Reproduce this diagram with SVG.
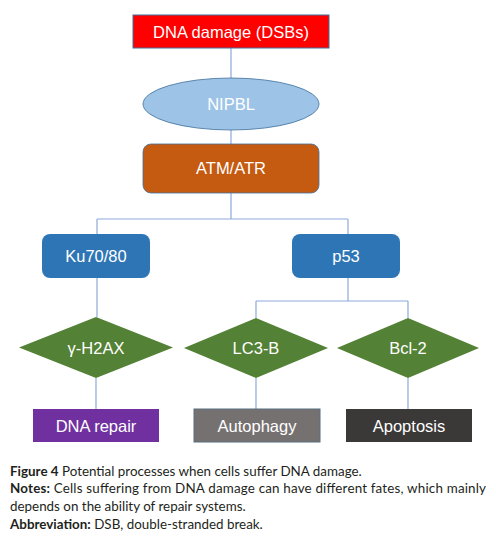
<svg xmlns="http://www.w3.org/2000/svg" width="496" height="537" viewBox="0 0 496 537">
<style>
.lbl{font-family:"Liberation Sans",Arial,sans-serif;font-size:16.5px;fill:#fff;text-anchor:middle}
.con{fill:none;stroke:#8eaadb;stroke-width:1.2}
.cap{font-family:"Lato","Open Sans",sans-serif;font-size:13.4px;fill:#231f20}
.b{font-weight:bold}
</style>
<rect width="496" height="537" fill="#fff"/>
<g id="connectors">
<path class="con" d="M231 48V78M231 129V144M231 193V219M97 219H348M97 219V234M348 219V234M97 278V317M348 278V301M256 301H408M256 301V318M408 301V318M96 378V409M256 378V409M408 378V409"/>
</g>
<g id="n-dna-damage"><rect x="133" y="15" width="196" height="33" fill="#ff0000" stroke="#41719c" stroke-width="1"/><text class="lbl" x="231" y="38">DNA damage (DSBs)</text></g>
<g id="n-nipbl"><ellipse cx="231" cy="104" rx="88" ry="26" fill="#9dc3e6" stroke="#41719c" stroke-width="0.8"/><text class="lbl" x="231" y="110">NIPBL</text></g>
<g id="n-atm"><rect x="143" y="144" width="176" height="49" rx="8" fill="#c55a11" stroke="#41719c" stroke-width="0.8"/><text class="lbl" x="231" y="174">ATM/ATR</text></g>
<g id="n-ku"><rect x="42" y="234" width="108" height="44" rx="8" fill="#2e75b6"/><text class="lbl" x="96" y="262">Ku70/80</text></g>
<g id="n-p53"><rect x="292" y="234" width="108" height="44" rx="8" fill="#2e75b6"/><text class="lbl" x="346" y="262">p53</text></g>
<g id="n-h2ax"><polygon points="96,317 173,347.5 96,378 19,347.5" fill="#538135"/><text class="lbl" x="96" y="354">γ-H2AX</text></g>
<g id="n-lc3b"><polygon points="256,318 328,348 256,378 184,348" fill="#538135"/><text class="lbl" x="256" y="354">LC3-B</text></g>
<g id="n-bcl2"><polygon points="408,318 479,348 408,378 337,348" fill="#538135"/><text class="lbl" x="408" y="354">Bcl-2</text></g>
<g id="n-repair"><rect x="33" y="409" width="126" height="33" fill="#7030a0"/><text class="lbl" x="96" y="432">DNA repair</text></g>
<g id="n-autophagy"><rect x="194" y="409" width="126" height="33" fill="#767171" stroke="#5b6f80" stroke-width="1"/><text class="lbl" x="257" y="432">Autophagy</text></g>
<g id="n-apoptosis"><rect x="346" y="409" width="126" height="33" fill="#3b3838"/><text class="lbl" x="409" y="432">Apoptosis</text></g>
<g id="caption">
<text class="cap" x="10" y="476"><tspan class="b">Figure 4</tspan> Potential processes when cells suffer DNA damage.</text>
<text class="cap" x="10" y="493" textLength="476" lengthAdjust="spacing"><tspan class="b">Notes:</tspan> Cells suffering from DNA damage can have different fates, which mainly</text>
<text class="cap" x="10" y="511">depends on the ability of repair systems.</text>
<text class="cap" x="10" y="529"><tspan class="b">Abbreviation:</tspan> DSB, double-stranded break.</text>
</g>
</svg>
